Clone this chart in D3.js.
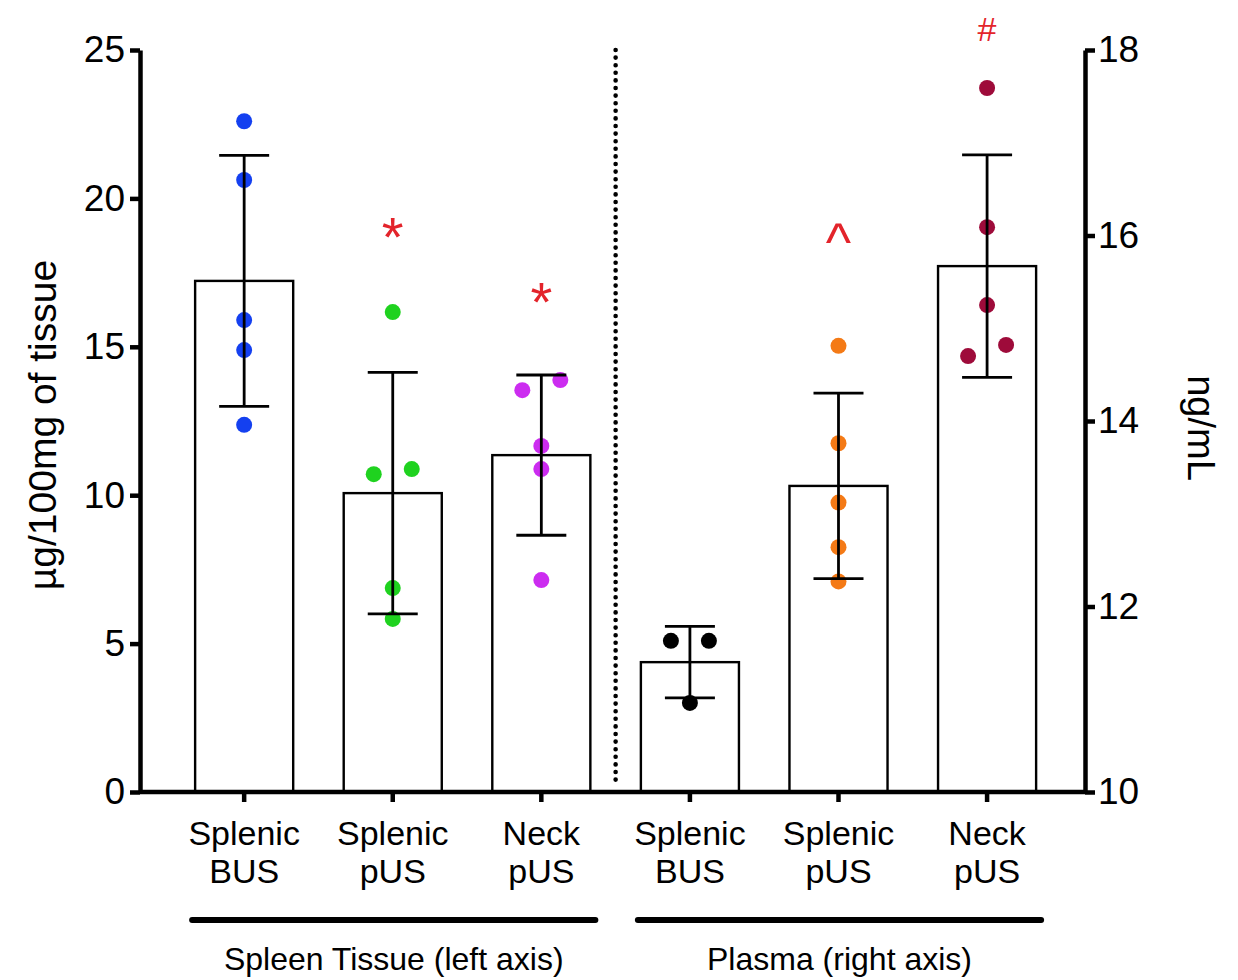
<!DOCTYPE html>
<html>
<head>
<meta charset="utf-8">
<script src="https://cdn.jsdelivr.net/npm/d3@7"></script>
<style>
  body { margin: 0; background: #fff; }
  svg { font-family: "Liberation Sans", Arial, sans-serif; }
</style>
</head>
<body>
<svg id="chart" width="1238" height="980"></svg>
<script>
// data
const groups = ["Spleen Tissue (left axis)", "Plasma (right axis)"];
const categories = ["T-SBUS", "T-SpUS", "T-NpUS", "P-SBUS", "P-SpUS", "P-NpUS"];
const catLine1 = ["Splenic", "Splenic", "Neck", "Splenic", "Splenic", "Neck"];
const catLine2 = ["BUS", "pUS", "pUS", "BUS", "pUS", "pUS"];
const catGroup = [0, 0, 0, 1, 1, 1];
const means = [17.22, 10.07, 11.35, 11.40, 13.30, 15.67];
const sds = [4.23, 4.07, 2.70, 0.385, 1.0, 1.2];
const points = [
  [22.6, 20.62, 15.9, 14.89, 12.37],
  [16.17, 10.71, 10.88, 6.87, 5.83],
  [13.54, 13.88, 11.66, 10.88, 7.14],
  [11.63, 11.63, 10.96],
  [14.81, 13.76, 13.12, 12.64, 12.27],
  [17.59, 16.09, 15.25, 14.70, 14.82]
];
const jitter = [
  [0, 0, 0, 0, 0],
  [0, -1, 1, 0, 0],
  [-1, 1, 0, 0, 0],
  [-1, 1, 0],
  [0, 0, 0, 0, 0],
  [0, 0, 0, -1, 1]
];
const colors = ["#1440f0", "#1fd21f", "#cc2cf0", "#000000", "#f47a16", "#9e0b3a"];
const marks = ["", "*", "*", "", "^", "#"];
const markValues = [null, 19.0, 16.81, null, 16.04, 18.22];
const leftTicks = [0, 5, 10, 15, 20, 25];
const rightTicks = [10, 12, 14, 16, 18];

const svg = d3.select("#chart");
const margin = { top: 50, right: 153, bottom: 188, left: 140 };
const width = 1238, height = 980;

const x = d3.scaleBand()
  .domain(categories)
  .range([margin.left, width - margin.right])
  .paddingInner(0.34)
  .paddingOuter(0.35)
  .align(0.53);

const yL = d3.scaleLinear().domain([0, 25]).range([height - margin.bottom, margin.top]);
const yR = d3.scaleLinear().domain([10, 18]).range([height - margin.bottom, margin.top]);
const yFor = i => (catGroup[i] === 0 ? yL : yR);

const data = categories.map((c, i) => ({
  key: c, i, mean: means[i], sd: sds[i], pts: points[i], jit: jitter[i], color: colors[i]
}));

// divider between groups
const mid = (x(categories[2]) + x.bandwidth() + x(categories[3])) / 2;
svg.append("line")
  .attr("x1", mid).attr("x2", mid)
  .attr("y1", margin.top).attr("y2", height - margin.bottom - 6)
  .attr("stroke", "#000")
  .attr("stroke-width", 4.6)
  .attr("stroke-linecap", "round")
  .attr("stroke-dasharray", "0 7.6");

// bars
svg.append("g")
  .selectAll("rect")
  .data(data)
  .join("rect")
  .attr("x", d => x(d.key))
  .attr("y", d => yFor(d.i)(d.mean))
  .attr("width", x.bandwidth())
  .attr("height", d => yFor(d.i).range()[0] - yFor(d.i)(d.mean))
  .attr("fill", "#fff")
  .attr("stroke", "#000")
  .attr("stroke-width", 2.4);

// points
const cx = d => x(d.key) + x.bandwidth() / 2;
svg.append("g")
  .selectAll("g")
  .data(data)
  .join("g")
  .attr("fill", d => d.color)
  .selectAll("circle")
  .data(d => d.pts.map((v, j) => ({ v, j: d.jit[j], d })))
  .join("circle")
  .attr("cx", p => cx(p.d) + p.j * 19)
  .attr("cy", p => yFor(p.d.i)(p.v))
  .attr("r", 8);

// error bars
const err = svg.append("g").attr("stroke", "#000").attr("stroke-width", 2.8);
data.forEach(d => {
  const y = yFor(d.i);
  const c = cx(d);
  err.append("line").attr("x1", c).attr("x2", c).attr("y1", y(d.mean + d.sd)).attr("y2", y(d.mean - d.sd));
  [d.mean + d.sd, d.mean - d.sd].forEach(v => {
    err.append("line").attr("x1", c - 25).attr("x2", c + 25).attr("y1", y(v)).attr("y2", y(v));
  });
});

// significance marks
const markSize = { "*": 56, "^": 54, "#": 34 };
const markDy = { "*": "0.5em", "^": "0.55em", "#": "0.35em" };
svg.append("g")
  .selectAll("text")
  .data(data.filter(d => marks[d.i]))
  .join("text")
  .attr("x", d => cx(d))
  .attr("y", d => yFor(d.i)(markValues[d.i]))
  .attr("dy", d => markDy[marks[d.i]])
  .attr("text-anchor", "middle")
  .attr("fill", "#e3242b")
  .attr("font-size", d => markSize[marks[d.i]])
  .text(d => marks[d.i]);

// axes
const styleAxis = g => {
  g.select(".domain").attr("stroke-width", 4.5);
  g.selectAll(".tick line").attr("stroke-width", 4.5);
  g.selectAll(".tick text").attr("font-size", 37).attr("fill", "#000");
};

svg.append("g")
  .attr("transform", `translate(${margin.left},0)`)
  .call(d3.axisLeft(yL).tickValues(leftTicks).tickSize(10).tickSizeOuter(0).tickPadding(5))
  .call(styleAxis);

svg.append("g")
  .attr("transform", `translate(${width - margin.right},0)`)
  .call(d3.axisRight(yR).tickValues(rightTicks).tickSize(10).tickSizeOuter(0).tickPadding(3))
  .call(styleAxis);

const xAxis = svg.append("g")
  .attr("transform", `translate(0,${height - margin.bottom})`)
  .call(d3.axisBottom(x).tickSize(10).tickSizeOuter(0))
  .call(styleAxis);
xAxis.select(".domain").attr("d", `M${margin.left},0H${width - margin.right}`);
xAxis.selectAll(".tick text")
  .text(null)
  .attr("y", 0)
  .attr("dy", null)
  .attr("font-size", 34)
  .each(function(k) {
    const i = categories.indexOf(k);
    const t = d3.select(this);
    t.append("tspan").attr("x", 0).attr("y", 53).text(catLine1[i]);
    t.append("tspan").attr("x", 0).attr("y", 91).text(catLine2[i]);
  });

// group brackets
groups.forEach((name, gi) => {
  const cats = categories.filter((c, i) => catGroup[i] === gi);
  const x0 = x(cats[0]) - 3;
  const x1 = x(cats[cats.length - 1]) + x.bandwidth() + 5;
  svg.append("line")
    .attr("x1", x0).attr("x2", x1)
    .attr("y1", 920).attr("y2", 920)
    .attr("stroke", "#000").attr("stroke-width", 6)
    .attr("stroke-linecap", "round");
  svg.append("text")
    .attr("x", (x0 + x1) / 2)
    .attr("y", 970)
    .attr("text-anchor", "middle")
    .attr("font-size", 32)
    .text(name);
});

// axis titles
svg.append("text")
  .attr("transform", `translate(56,425) rotate(-90)`)
  .attr("text-anchor", "middle")
  .attr("font-size", 39)
  .text("µg/100mg of tissue");

svg.append("text")
  .attr("transform", `translate(1188,428) rotate(90)`)
  .attr("text-anchor", "middle")
  .attr("font-size", 38)
  .text("ng/mL");
</script>
</body>
</html>
